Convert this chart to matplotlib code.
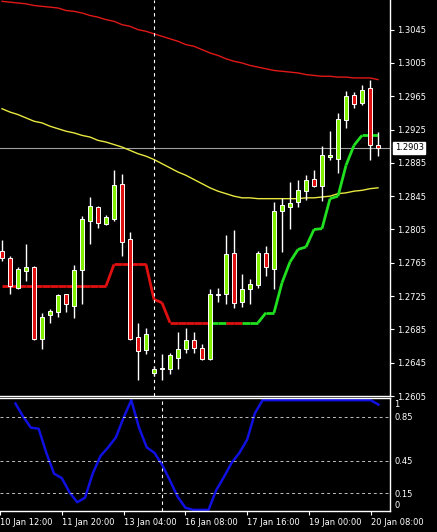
import matplotlib
matplotlib.use("Agg")
import matplotlib.pyplot as plt
from matplotlib.patches import Rectangle
import numpy as np

opens = [1.2779,1.2771,1.2735,1.2755,1.2760,1.2674,1.2702,1.2706,1.2727,1.2713,1.2756,1.2815,1.2832,1.2811,1.2817,1.2860,1.2793,1.2676,1.2660,1.2633,1.2638,1.2638,1.2651,1.2662,1.2672,1.2663,1.2649,1.2728,1.2727,1.2777,1.2718,1.2734,1.2738,1.2777,1.2757,1.2827,1.2832,1.2838,1.2851,1.2866,1.2857,1.2892,1.2890,1.2937,1.2966,1.2957,1.2975,1.2906]
highs = [1.2792,1.2773,1.2760,1.2788,1.2761,1.2705,1.2710,1.2727,1.2728,1.2762,1.2821,1.2844,1.2833,1.2822,1.2877,1.2872,1.2802,1.2693,1.2687,1.2641,1.2656,1.2657,1.2682,1.2687,1.2682,1.2667,1.2733,1.2735,1.2798,1.2804,1.2751,1.2745,1.2779,1.2785,1.2838,1.2843,1.2862,1.2865,1.2870,1.2877,1.2905,1.2923,1.2945,1.2971,1.2970,1.2979,1.2985,1.2922]
lows = [1.2767,1.2728,1.2733,1.2743,1.2672,1.2662,1.2693,1.2700,1.2706,1.2699,1.2715,1.2788,1.2807,1.2810,1.2815,1.2773,1.2672,1.2624,1.2656,1.2629,1.2624,1.2632,1.2638,1.2657,1.2657,1.2648,1.2648,1.2718,1.2715,1.2711,1.2712,1.2715,1.2735,1.2749,1.2733,1.2778,1.2805,1.2832,1.2840,1.2856,1.2839,1.2889,1.2873,1.2927,1.2951,1.2955,1.2889,1.2893]
closes = [1.2771,1.2737,1.2757,1.2760,1.2673,1.2700,1.2707,1.2726,1.2716,1.2756,1.2817,1.2833,1.2813,1.2820,1.2859,1.2790,1.2674,1.2659,1.2679,1.2638,1.2639,1.2654,1.2662,1.2672,1.2663,1.2649,1.2727,1.2726,1.2776,1.2717,1.2733,1.2740,1.2777,1.2760,1.2827,1.2834,1.2837,1.2852,1.2865,1.2857,1.2895,1.2894,1.2938,1.2965,1.2956,1.2973,1.2907,1.2903]

ma_slow = [1.3079,1.3078,1.3077,1.3076,1.3074,1.3073,1.3072,1.3071,1.3068,1.3067,1.3065,1.3062,1.3060,1.3057,1.3055,1.3051,1.3049,1.3045,1.3043,1.3040,1.3037,1.3034,1.3031,1.3027,1.3025,1.3021,1.3017,1.3014,1.3010,1.3007,1.3005,1.3002,1.3000,1.2998,1.2996,1.2995,1.2994,1.2993,1.2991,1.2990,1.2989,1.2989,1.2988,1.2988,1.2987,1.2987,1.2987,1.2985]
ma_mid = [1.2950,1.2946,1.2943,1.2939,1.2935,1.2933,1.2929,1.2926,1.2923,1.2921,1.2918,1.2916,1.2912,1.2910,1.2907,1.2904,1.2900,1.2896,1.2893,1.2889,1.2884,1.2879,1.2874,1.2870,1.2865,1.2860,1.2855,1.2851,1.2848,1.2845,1.2843,1.2843,1.2842,1.2842,1.2842,1.2842,1.2842,1.2842,1.2843,1.2843,1.2844,1.2845,1.2848,1.2849,1.2851,1.2852,1.2854,1.2855]
stop = [1.2737]*14 + [1.2763]*5 + [1.2721,1.2717] + [1.2693]*12 + [1.2705,1.2705,1.2741,1.2766,1.2781,1.2784,1.2805,1.2806,1.2842,1.2845,1.2882,1.2906,1.2918,1.2918,1.2918]
stop_up = [False]*27 + [True,True] + [False,False] + [True]*17
osc = [0.97,0.85,0.75,0.74,0.52,0.33,0.29,0.16,0.07,0.11,0.33,0.49,0.57,0.66,0.84,1.0,0.75,0.57,0.52,0.41,0.27,0.12,0.02,0.0,0.0,0.0,0.18,0.30,0.43,0.52,0.64,0.88] + [1.0]*15 + [0.96]
price_ticks = [1.2605,1.2645,1.2685,1.2725,1.2765,1.2805,1.2845,1.2885,1.2925,1.2965,1.3005,1.3045]
osc_levels = [1, 0.85, 0.45, 0.15, 0]
time_ticks = [-2, 6, 14, 22, 30, 38, 46]
time_labels = ["10 Jan 12:00","11 Jan 20:00","13 Jan 04:00","16 Jan 08:00","17 Jan 16:00","19 Jan 00:00","20 Jan 08:00"]
last_price = 1.2903

W, H = 437, 532
fig = plt.figure(figsize=(W/100, H/100), dpi=100, facecolor="black")
def ax_at(x0, y0, x1, y1):
    return fig.add_axes([x0/W, 1-y1/H, (x1-x0)/W, (y1-y0)/H], facecolor="black")

ax = ax_at(0, 0, 390, 396)
ax2 = ax_at(0, 398, 390, 511)
n = len(opens)
xs = np.arange(n)
for a in (ax, ax2):
    a.set_xlim(-0.25, 48.5)
    for s in a.spines.values():
        s.set_color("white"); s.set_linewidth(1)
    a.spines["left"].set_visible(False)
ax.spines["top"].set_visible(False)
ax.set_ylim(1.26275, 1.30806)

GREEN = "#80f000"; RED = "#e01010"
for i in range(n):
    o, h, l, c = opens[i], highs[i], lows[i], closes[i]
    ax.vlines(i, l, h, color="white", lw=1, zorder=3)
    col = GREEN if c >= o else RED
    lo, hi = min(o, c), max(o, c)
    ax.add_patch(Rectangle((i-0.3, lo), 0.6, max(hi-lo, 0.00008), facecolor=col,
                           edgecolor="white", lw=0.7, zorder=4))

ax.plot(xs, ma_slow, color="#e01818", lw=1, zorder=2)
ax.plot(xs, ma_mid, color="#e8e840", lw=1, zorder=2)
for i in range(n-1):
    ax.plot(xs[i:i+2], stop[i:i+2], color="#20e020" if stop_up[i+1] else "#e01010",
            lw=2, zorder=2, solid_capstyle="butt")

ax.axhline(last_price, color="#a0a0a0", lw=0.8, zorder=1)
ax.axvline(19, color="white", lw=0.8, ls=(0, (3, 3)))
ax2.axvline(19, color="white", lw=0.8, ls=(0, (3, 3)))

ax.set_xticks([])
ax.yaxis.tick_right()
ax.set_yticks(price_ticks)
ax.set_yticklabels([f"{p:.4f}" for p in price_ticks])
ax.tick_params(axis="y", colors="white", labelsize=6, length=3, pad=2)
ax.text(1.012, last_price, f"{last_price:.4f}", color="black", fontsize=6,
        va="center", ha="left", transform=ax.get_yaxis_transform(), clip_on=False,
        bbox=dict(boxstyle="square,pad=0.15", facecolor="white", edgecolor="white"), zorder=10)

ax2.plot(xs, osc, color="#1010e0", lw=1.8)
ax2.set_ylim(-0.01, 1.02)
for lv in [0.85, 0.45, 0.15]:
    ax2.axhline(lv, color="#c0c0c0", lw=0.7, ls=(0, (3, 3)))
ax2.yaxis.tick_right()
ax2.set_yticks(osc_levels)
ax2.set_yticklabels(["1", "0.85", "0.45", "0.15", "0"])
ax2.tick_params(axis="y", colors="white", labelsize=6, length=0, pad=3)
ylabs = ax2.get_yticklabels()
ylabs[0].set_verticalalignment("top")
ylabs[-1].set_verticalalignment("bottom")
ax2.set_xticks(time_ticks)
ax2.set_xticklabels(time_labels)
ax2.tick_params(axis="x", colors="white", labelsize=6, length=3, pad=2)
for t in ax2.get_xticklabels():
    t.set_horizontalalignment("left")

fig.savefig("out.png", dpi=100, facecolor="black")
